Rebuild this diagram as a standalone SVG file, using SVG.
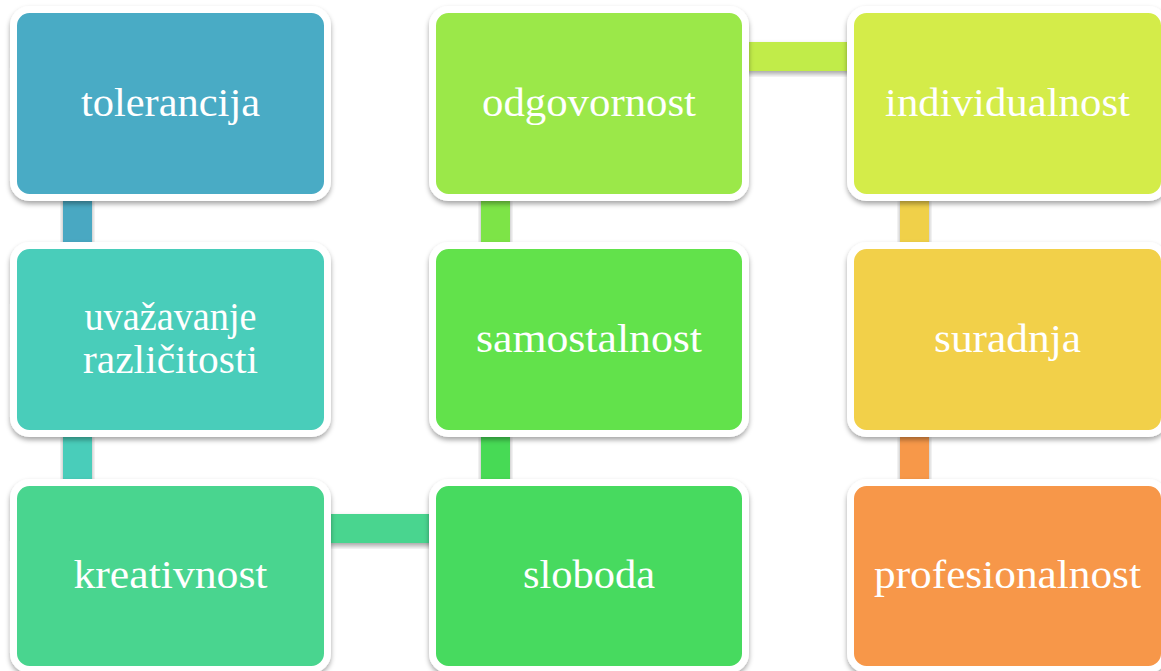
<svg xmlns="http://www.w3.org/2000/svg" width="1161" height="671" viewBox="0 0 1161 671">
<defs>
<filter id="sh" x="-10%" y="-10%" width="120%" height="130%">
<feDropShadow dx="0" dy="3" stdDeviation="2.5" flood-color="#000" flood-opacity="0.35"/>
</filter>
<style>
.box{stroke:#fff;stroke-width:7;filter:url(#sh)}
.lbl{font-family:"Liberation Serif","DejaVu Serif",serif;font-size:40px;fill:#fff;text-anchor:middle}
.con{filter:url(#sh)}
</style>
</defs>
<rect width="1161" height="671" fill="#fff"/>
<g id="connectors">
<rect class="con" x="63" y="198" width="29" height="55" fill="#48A8C2"/>
<rect class="con" x="63" y="434" width="29" height="55" fill="#48CDBA"/>
<rect class="con" x="328" y="514" width="112" height="29" fill="#4AD58F"/>
<rect class="con" x="481" y="434" width="29" height="55" fill="#46DA55"/>
<rect class="con" x="481" y="198" width="29" height="55" fill="#7DE447"/>
<rect class="con" x="746" y="42" width="112" height="29" fill="#C1EC4A"/>
<rect class="con" x="900" y="198" width="29" height="55" fill="#F0D04A"/>
<rect class="con" x="900" y="434" width="29" height="55" fill="#F7984A"/>
</g>
<g id="n1"><rect class="box" x="13.5" y="9.5" width="314" height="188" rx="16" fill="#4AABC5"/>
<text class="lbl" x="170.5" y="116" textLength="179" lengthAdjust="spacingAndGlyphs">tolerancija</text></g>
<g id="n2"><rect class="box" x="13.5" y="245.5" width="314" height="188" rx="16" fill="#48CDBA"/>
<text class="lbl" x="170.5" y="330" textLength="172" lengthAdjust="spacingAndGlyphs">uvažavanje</text>
<text class="lbl" x="170.5" y="373" textLength="175" lengthAdjust="spacingAndGlyphs">različitosti</text></g>
<g id="n3"><rect class="box" x="13.5" y="482.5" width="314" height="187" rx="16" fill="#4AD58F"/>
<text class="lbl" x="170.5" y="588" textLength="194" lengthAdjust="spacingAndGlyphs">kreativnost</text></g>
<g id="n4"><rect class="box" x="432.5" y="482.5" width="313" height="187" rx="16" fill="#46DA5E"/>
<text class="lbl" x="589" y="588" textLength="132" lengthAdjust="spacingAndGlyphs">sloboda</text></g>
<g id="n5"><rect class="box" x="432.5" y="245.5" width="313" height="188" rx="16" fill="#62E24B"/>
<text class="lbl" x="589" y="352" textLength="226" lengthAdjust="spacingAndGlyphs">samostalnost</text></g>
<g id="n6"><rect class="box" x="432.5" y="9.5" width="313" height="188" rx="16" fill="#9BE84A"/>
<text class="lbl" x="589" y="116" textLength="214" lengthAdjust="spacingAndGlyphs">odgovornost</text></g>
<g id="n7"><rect class="box" x="850.5" y="9.5" width="314" height="188" rx="16" fill="#D4EC4A"/>
<text class="lbl" x="1007.5" y="116" textLength="245" lengthAdjust="spacingAndGlyphs">individualnost</text></g>
<g id="n8"><rect class="box" x="850.5" y="245.5" width="314" height="188" rx="16" fill="#F2D04A"/>
<text class="lbl" x="1007.5" y="352" textLength="147" lengthAdjust="spacingAndGlyphs">suradnja</text></g>
<g id="n9"><rect class="box" x="850.5" y="482.5" width="314" height="187" rx="16" fill="#F79748"/>
<text class="lbl" x="1007.5" y="588" textLength="267" lengthAdjust="spacingAndGlyphs">profesionalnost</text></g>
</svg>
